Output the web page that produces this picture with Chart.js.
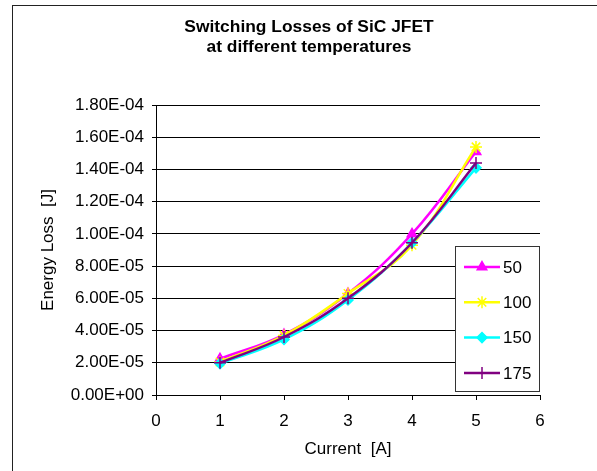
<!DOCTYPE html>
<html>
<head>
<meta charset="utf-8">
<script src="https://cdn.jsdelivr.net/npm/chart.js@4/dist/chart.umd.min.js"></script>
<style>
  html, body { margin: 0; padding: 0; background: #fff; }
  #wrap { width: 597px; height: 471px; position: relative; }
</style>
</head>
<body>
<div id="wrap"><canvas id="chart" width="597" height="471"></canvas></div>
<script>
// ===== data =====
const titleLines = ["Switching Losses of SiC JFET", "at different temperatures"];
const currents = [1, 2, 3, 4, 5];
const temps = ["50", "100", "150", "175"];
const loss50  = [2.25e-5, 3.75e-5, 6.3e-5, 1.00e-4, 1.51e-4];
const loss100 = [2.05e-5, 3.70e-5, 6.3e-5, 9.30e-5, 1.54e-4];
const loss150 = [1.95e-5, 3.45e-5, 5.9e-5, 9.45e-5, 1.41e-4];
const loss175 = [2.00e-5, 3.60e-5, 6.0e-5, 9.45e-5, 1.44e-4];
const xTitle = "Current  [A]";
const yTitle = "Energy Loss  [J]";

const FONT = "'Liberation Sans', Arial, sans-serif";
Chart.defaults.font.family = FONT;
Chart.defaults.font.size = 17;
Chart.defaults.color = "#000";

// Excel-like scientific label: 1.80E-04
function sci(v){
  const [m, e] = Number(v).toExponential(2).split("e");
  const sign = e[0] === "-" ? "-" : "+";
  return m + "E" + sign + e.replace(/[+-]/, "").padStart(2, "0");
}

const styles = [
  {color:"#ff00ff", point:"triangle", r:5.5},
  {color:"#ffff00", point:"star",     r:6},
  {color:"#00ffff", point:"rectRot",  r:5},
  {color:"#800080", point:"cross",    r:6},
];
const series = [loss50, loss100, loss150, loss175];

const datasets = series.map((vals, i) => ({
  label: temps[i],
  data: currents.map((x, j) => ({x, y: vals[j]})),
  borderColor: styles[i].color,
  backgroundColor: styles[i].color,
  pointStyle: styles[i].point,
  pointRadius: styles[i].r,
  pointBorderWidth: 1.5,
  pointBackgroundColor: styles[i].color,
  pointBorderColor: styles[i].color,
  borderWidth: 2.5,
  tension: 0.4,
  order: series.length - i,
}));

// title + outer frame
const framePlugin = {
  id: "frame",
  afterDraw(chart){
    const ctx = chart.ctx;
    ctx.save();
    ctx.strokeStyle = "#222";
    ctx.lineWidth = 1;
    ctx.strokeRect(12.5, 5.5, 700, 700);
    ctx.fillStyle = "#000";
    ctx.font = "bold 17.4px " + FONT;
    ctx.textAlign = "center";
    ctx.textBaseline = "middle";
    titleLines.forEach((t, i) => ctx.fillText(t, 309, 27 + i * 20.5));
    ctx.restore();
  }
};

// boxed legend in the lower right of the plot
const legendPlugin = {
  id: "boxLegend",
  afterDraw(chart){
    const ctx = chart.ctx, ca = chart.chartArea;
    const w = 84, h = 145;
    const left = ca.right - 1 - w, top = ca.bottom - 4 - h;
    ctx.save();
    ctx.fillStyle = "#fff";
    ctx.fillRect(left, top, w, h);
    ctx.strokeStyle = "#333";
    ctx.lineWidth = 1;
    ctx.strokeRect(Math.round(left) + 0.5, Math.round(top) + 0.5, w, h);
    chart.data.datasets.forEach((ds, i) => {
      const y = top + 21 + i * 35.3;
      ctx.strokeStyle = ds.borderColor;
      ctx.lineWidth = 2.5;
      ctx.beginPath();
      ctx.moveTo(left + 9, y);
      ctx.lineTo(left + 45, y);
      ctx.stroke();
      ctx.fillStyle = ds.pointBackgroundColor;
      ctx.lineWidth = ds.pointBorderWidth;
      Chart.helpers.drawPoint(ctx, {pointStyle: ds.pointStyle, radius: ds.pointRadius, borderWidth: ds.pointBorderWidth, rotation: 0}, left + 27, y);
      ctx.fillStyle = "#000";
      ctx.font = "17px " + FONT;
      ctx.textAlign = "left";
      ctx.textBaseline = "middle";
      ctx.fillText(ds.label, left + 48, y + 1);
    });
    ctx.restore();
  }
};

new Chart(document.getElementById("chart"), {
  type: "line",
  data: { datasets },
  options: {
    responsive: false,
    animation: false,
    layout: { padding: { left: 0, right: 57, top: 105, bottom: 0 } },
    plugins: { legend: { display: false }, tooltip: { enabled: false }, title: { display: false } },
    scales: {
      x: {
        type: "linear", min: 0, max: 6,
        ticks: { stepSize: 1, padding: 11, color: "#000" },
        grid: { drawOnChartArea: false, drawTicks: true, tickLength: 5, color: "#000" },
        border: { color: "#000", width: 1 },
        title: { display: true, text: xTitle, color: "#000", padding: { top: 0, bottom: 11 } },
        afterFit: (s) => { s.height = 76; }
      },
      y: {
        min: 0, max: 1.8e-4,
        ticks: { stepSize: 2e-5, padding: 8, color: "#000", callback: (v) => sci(v) },
        grid: { color: "#000", lineWidth: 1, tickLength: 4 },
        border: { color: "#000", width: 1 },
        title: { display: true, text: yTitle, color: "#000", padding: { top: 38, bottom: 0 } },
        afterFit: (s) => { s.width = 156; }
      }
    }
  },
  plugins: [framePlugin, legendPlugin]
});
</script>
</body>
</html>
